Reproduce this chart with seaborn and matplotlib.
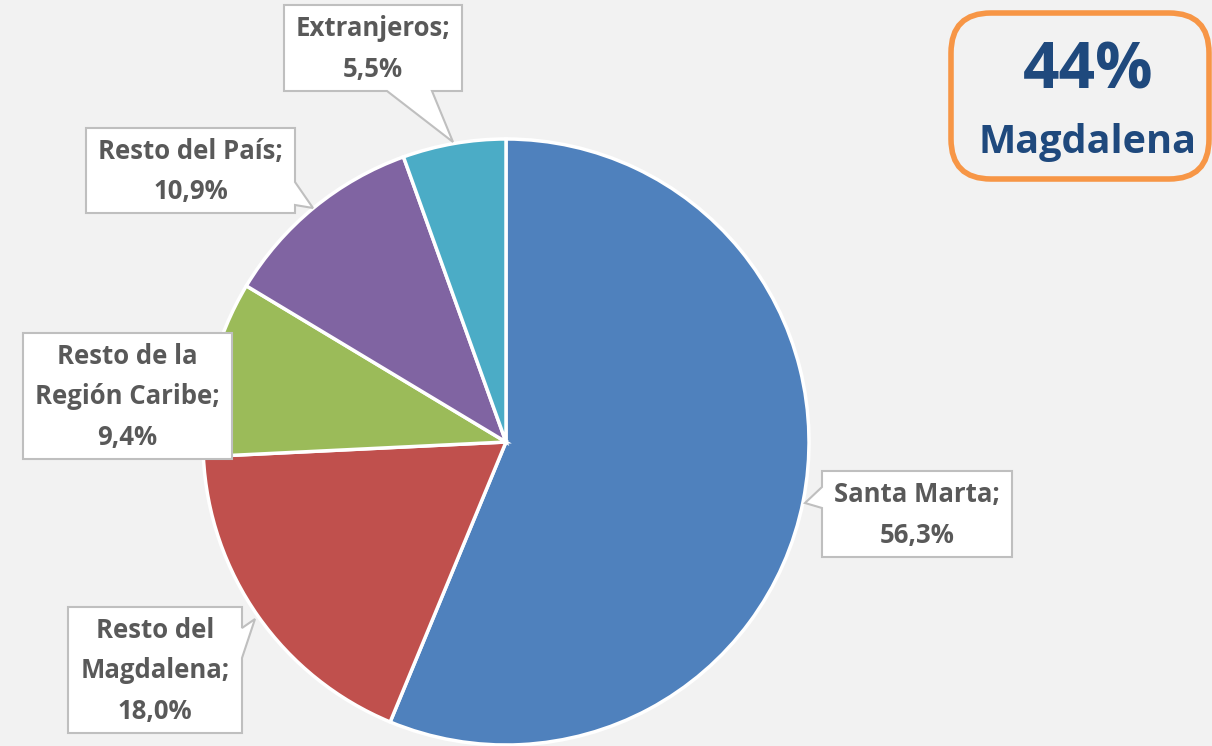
import seaborn as sns
import matplotlib.pyplot as plt
from matplotlib.patches import Polygon, FancyBboxPatch

categorias = ['Santa Marta', 'Resto del\nMagdalena', 'Resto de la\nRegión Caribe',
              'Resto del País', 'Extranjeros']
porcentajes = [56.3, 18.0, 9.4, 10.9, 5.5]
colores = ['#4F81BD', '#C0504D', '#9BBB59', '#8064A2', '#4BACC6']
destacado_valor = '44%'
destacado_texto = 'Magdalena'

sns.set_theme(style='white')
plt.rcParams['font.family'] = ['Open Sans', 'DejaVu Sans']

W, H = 1212, 746
fondo = '#F2F2F2'
gris_texto = '#595959'


def Y(y):
    # coordenadas de pixel con y hacia abajo
    return H - y


# cajas de etiquetas: (x0, y0, x1, y1) y el globo (lado, p1, punta, p2)
cajas = [
    ((822, 471, 1012, 557), ('left', 487, (805, 503), 508)),
    ((68, 607, 242, 733), ('right', 628, (255, 619), 658)),
    ((23, 333, 232, 459), None),
    ((86, 128, 295, 213), ('right', 182, (313, 208), 205)),
    ((284, 5, 462, 91), ('bottom', 387, (453, 142), 432)),
]


def globo(caja, ptr):
    x0, y0, x1, y1 = caja
    pts = [(x0, y0), (x1, y0)]
    if ptr and ptr[0] == 'right':
        pts += [(x1, ptr[1]), ptr[2], (x1, ptr[3])]
    pts += [(x1, y1)]
    if ptr and ptr[0] == 'bottom':
        pts += [(ptr[3], y1), ptr[2], (ptr[1], y1)]
    pts += [(x0, y1)]
    if ptr and ptr[0] == 'left':
        pts += [(x0, ptr[3]), ptr[2], (x0, ptr[1])]
    return [(x, Y(y)) for x, y in pts]


fig = plt.figure(figsize=(W / 100, H / 100), dpi=100, facecolor=fondo)
ax = fig.add_axes([0, 0, 1, 1])
ax.set_facecolor(fondo)

ax.pie(porcentajes, colors=colores, startangle=90, counterclock=False,
       center=(506, Y(442)), radius=303,
       wedgeprops=dict(edgecolor='white', linewidth=2.5))

for nombre, valor, (caja, ptr) in zip(categorias, porcentajes, cajas):
    ax.add_patch(Polygon(globo(caja, ptr), closed=True, facecolor='white',
                         edgecolor='#BFBFBF', linewidth=1.5, zorder=5))
    x0, y0, x1, y1 = caja
    texto = f'{nombre};\n{valor:.1f}%'.replace('.', ',')
    ax.text((x0 + x1) / 2, Y((y0 + y1) / 2 + 1), texto, ha='center', va='center',
            fontsize=18.5, fontweight='bold', color=gris_texto,
            linespacing=1.65, zorder=6)

ax.add_patch(FancyBboxPatch((951, Y(179)), 258, 166,
                            boxstyle='round,pad=0,rounding_size=40',
                            facecolor='none', edgecolor='#F79646',
                            linewidth=4, zorder=5))
ax.text(1088, Y(72), destacado_valor, ha='center', va='center',
        fontsize=46, fontweight='bold', color='#1F497D')
ax.text(1087, Y(143), destacado_texto, ha='center', va='center',
        fontsize=28.5, fontweight='bold', color='#1F497D')

ax.set_xlim(0, W)
ax.set_ylim(0, H)
ax.set_aspect('auto')
ax.axis('off')

fig.savefig('out.png', dpi=100, facecolor=fondo)
